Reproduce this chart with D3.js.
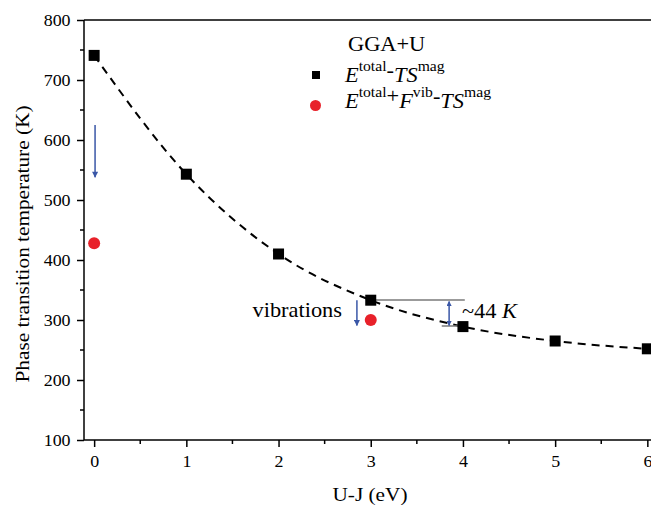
<!DOCTYPE html>
<html>
<head>
<meta charset="utf-8">
<script src="https://cdn.jsdelivr.net/npm/d3@7"></script>
<style>
  body { margin: 0; background: #fff; }
</style>
</head>
<body>
<svg id="svg1"></svg>
<script>
// data
const uj = [0, 1, 2, 3, 4, 5, 6];
const tMag = [741, 543, 410, 333, 289, 265, 252];   // E_total - TS_mag
const ujVib = [0, 3];
const tVib = [428, 300];                            // E_total + F_vib - TS_mag
const xTicks = [0, 1, 2, 3, 4, 5, 6];
const yTicks = [100, 200, 300, 400, 500, 600, 700, 800];

const width = 651;
const height = 506;
const margin = {top: 20, right: 0, bottom: 66, left: 84};
const serif = '"Liberation Serif", "Times New Roman", "DejaVu Serif", serif';
const stretch = 'scale(1.12,1)';   // the original type is a bit wider than Liberation
const blue = '#3a57a7';
const red = '#e8212a';

const svg = d3.select('#svg1')
    .attr('width', width)
    .attr('height', height)
    .attr('font-family', serif);

const x = d3.scaleLinear()
    .domain([-0.11, 6.04])
    .range([margin.left, margin.left + (6.04 + 0.11) * 92.2]);
const y = d3.scaleLinear()
    .domain([100, 800])
    .range([height - margin.bottom, margin.top]);

const defs = svg.append('defs');
function marker(id, len, wid) {
  defs.append('marker')
      .attr('id', id)
      .attr('viewBox', '0 0 10 10')
      .attr('refX', 9).attr('refY', 5)
      .attr('markerWidth', len).attr('markerHeight', wid)
      .attr('markerUnits', 'userSpaceOnUse')
      .attr('orient', 'auto-start-reverse')
      .append('path')
      .attr('d', 'M0,0 L10,5 L0,10 Z')
      .attr('fill', blue);
}
marker('head', 11, 6);
marker('headS', 9, 5);

// text helper, placed at (px, py) and widened a little
function label(px, py, size) {
  return svg.append('text')
      .attr('transform', 'translate(' + px + ',' + py + ') ' + stretch)
      .attr('font-family', serif)
      .attr('font-size', size)
      .attr('fill', '#000');
}

// frame: top line
svg.append('line')
    .attr('x1', margin.left).attr('x2', width)
    .attr('y1', margin.top).attr('y2', margin.top)
    .attr('stroke', '#000').attr('stroke-width', 1.5);

// X axis
const xAxis = svg.append('g')
    .attr('transform', 'translate(0,' + y(100) + ')')
    .call(d3.axisBottom(x).tickValues(xTicks).tickSize(7).tickPadding(9).tickFormat(d3.format('d')));
xAxis.append('g')
    .selectAll('line')
    .data([0.5, 1.5, 2.5, 3.5, 4.5, 5.5])
    .enter()
    .append('line')
    .attr('x1', d => x(d)).attr('x2', d => x(d))
    .attr('y1', 0).attr('y2', 4)
    .attr('stroke', '#000').attr('stroke-width', 1.5);
xAxis.select('.domain').attr('d', 'M' + margin.left + ',0H' + width);

// Y axis
const yAxis = svg.append('g')
    .attr('transform', 'translate(' + margin.left + ',0)')
    .call(d3.axisLeft(y).tickValues(yTicks).tickSize(7).tickPadding(5));
yAxis.append('g')
    .selectAll('line')
    .data([150, 250, 350, 450, 550, 650, 750])
    .enter()
    .append('line')
    .attr('x1', 0).attr('x2', -4)
    .attr('y1', d => y(d)).attr('y2', d => y(d))
    .attr('stroke', '#000').attr('stroke-width', 1.5);
yAxis.select('.domain').attr('d', 'M0,' + margin.top + 'V' + y(100));

svg.selectAll('g').attr('font-family', serif).attr('font-size', 16);
svg.selectAll('.tick line').attr('stroke-width', 1.5);
svg.selectAll('.domain').attr('stroke-width', 1.5);
svg.selectAll('.tick text')
    .attr('transform', stretch)
    .attr('font-family', serif)
    .attr('font-size', 16)
    .attr('fill', '#000');

// axis titles
svg.append('text')
    .attr('transform', 'translate(29,244) rotate(-90) ' + stretch)
    .attr('text-anchor', 'middle')
    .attr('font-family', serif)
    .attr('font-size', 19)
    .text('Phase transition temperature (K)');
label(370, 501, 19)
    .attr('text-anchor', 'middle')
    .text('U-J (eV)');

// dashed fit curve
const pts = uj.map((d, i) => [d, tMag[i]]);
const line = d3.line()
    .x(d => x(d[0]))
    .y(d => y(d[1]))
    .curve(d3.curveMonotoneX);
svg.append('path')
    .datum(pts)
    .attr('fill', 'none')
    .attr('stroke', '#000')
    .attr('stroke-width', 2)
    .attr('stroke-dasharray', '8,6')
    .attr('d', line);

// annotation lines (gray)
const gray = '#7a7a7a';
svg.append('line')
    .attr('x1', x(3)).attr('x2', x(4.02))
    .attr('y1', y(333.3)).attr('y2', y(333.3))
    .attr('stroke', gray).attr('stroke-width', 1.5);
svg.append('line')
    .attr('x1', x(3.77)).attr('x2', x(4))
    .attr('y1', y(290)).attr('y2', y(290))
    .attr('stroke', gray).attr('stroke-width', 1.5);

// arrows
function arrow(x0, y0, y1, both) {
  const l = svg.append('line')
      .attr('x1', x(x0)).attr('x2', x(x0))
      .attr('y1', y(y0)).attr('y2', y(y1))
      .attr('stroke', blue).attr('stroke-width', 1.5);
  if (both) {
    l.attr('marker-end', 'url(#headS)').attr('marker-start', 'url(#headS)');
  } else {
    l.attr('marker-end', 'url(#head)');
  }
}
arrow(0.01, 625, 538, false);
arrow(2.85, 333, 291, false);
arrow(3.85, 331, 291, true);

// squares
svg.selectAll('rect.sq')
    .data(uj)
    .enter()
    .append('rect')
    .attr('class', 'sq')
    .attr('x', d => x(d) - 5.5)
    .attr('y', (d, i) => y(tMag[i]) - 5.5)
    .attr('width', 11).attr('height', 11)
    .attr('fill', '#000');

// red circles
svg.selectAll('circle.vib')
    .data(ujVib)
    .enter()
    .append('circle')
    .attr('class', 'vib')
    .attr('cx', d => x(d))
    .attr('cy', (d, i) => y(tVib[i]))
    .attr('r', 6)
    .attr('fill', red);

// annotation texts
label(342, 317, 20)
    .attr('text-anchor', 'end')
    .text('vibrations');
const t44 = label(462, 318, 20);
t44.append('tspan').text('~44 ');
t44.append('tspan').attr('font-style', 'italic').text('K');

// legend
label(348, 51, 20).text('GGA+U');
svg.append('rect')
    .attr('x', 312).attr('y', 71).attr('width', 8).attr('height', 8)
    .attr('fill', '#000');
svg.append('circle')
    .attr('cx', 315.5).attr('cy', 105.5).attr('r', 5.5)
    .attr('fill', red);

// i = italic on baseline, s = superscript, b = sign slightly raised
function legendText(yy, parts) {
  const t = label(345, yy, 20);
  parts.forEach(p => {
    const s = t.append('tspan').text(p[0]);
    if (p[1] === 'i') s.attr('font-style', 'italic').attr('y', 0);
    if (p[1] === 's') s.attr('font-size', 14).attr('y', -11);
    if (p[1] === 'b') s.attr('y', -5);
  });
}
legendText(82, [['E', 'i'], ['total', 's'], ['-', 'b'], ['TS', 'i'], ['mag', 's']]);
legendText(108, [['E', 'i'], ['total', 's'], ['+', 'b'], ['F', 'i'], ['vib', 's'], ['-', 'b'], ['TS', 'i'], ['mag', 's']]);
</script>
</body>
</html>
